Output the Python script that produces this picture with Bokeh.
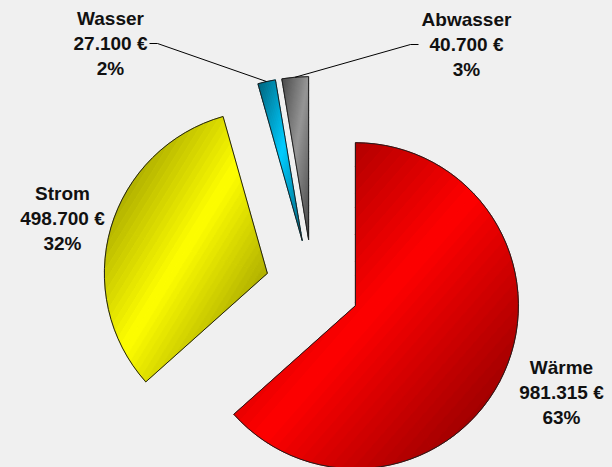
import numpy as np
from bokeh.plotting import figure
from bokeh.models import Range1d
from bokeh.embed import file_html
from bokeh.resources import INLINE
from bokeh.core.properties import value

# ---------------- data ----------------
categories = ["Wärme", "Strom", "Wasser", "Abwasser"]
amounts = [981315, 498700, 27100, 40700]          # euro
colors = ["#ff0000", "#ffff00", "#00ccff", "#969696"]

# ---------------- layout (1 data unit = 1 screen pixel, y up) ----------------
CX, CY = 312.0, 181.0        # pie centre
RADIUS = 163.0
EXPLODE = 47.0
label_pos = [(561, 75), (62, 249), (110, 424), (466, 423)]   # middle line of each label
LINE_GAP = 25
leaders = [None, None, (149, 157), (418, 410)]                # (start x, elbow x) on middle line
DARK = 0.47
NBANDS = 48
FONT = "Liberation Sans"
FONT_SIZE = "19px"

total = float(sum(amounts))
fracs = [a / total for a in amounts]

p = figure(width=612, height=467, x_range=Range1d(0, 612), y_range=Range1d(0, 467),
           output_backend="svg", toolbar_location=None, min_border=0,
           x_axis_location=None, y_axis_location=None)
p.grid.visible = False
p.outline_line_color = None
p.background_fill_color = "#f0f0f0"
p.border_fill_color = "#f0f0f0"


def clip(poly, a, b, c):
    out = []
    n = len(poly)
    for i in range(n):
        P = poly[i]
        Q = poly[(i + 1) % n]
        fp = a * P[0] + b * P[1] + c
        fq = a * Q[0] + b * Q[1] + c
        if fp >= 0:
            out.append(P)
        if (fp >= 0) != (fq >= 0):
            s = fp / (fp - fq)
            out.append((P[0] + s * (Q[0] - P[0]), P[1] + s * (Q[1] - P[1])))
    return out


def shade(hexcol, f):
    r = int(hexcol[1:3], 16); g = int(hexcol[3:5], 16); b = int(hexcol[5:7], 16)
    return "#%02x%02x%02x" % (int(round(r * f)), int(round(g * f)), int(round(b * f)))


wx, wy, ws, we, wc = [], [], [], [], []
band_xs, band_ys, band_cols = [], [], []
outer_mid = []
cum = 0.0
for i, fr in enumerate(fracs):
    a0 = np.pi / 2 - 2 * np.pi * cum
    a1 = np.pi / 2 - 2 * np.pi * (cum + fr)
    cum += fr
    mid = (a0 + a1) / 2
    vx = CX + EXPLODE * np.cos(mid)
    vy = CY + EXPLODE * np.sin(mid)
    wx.append(vx); wy.append(vy); ws.append(a0); we.append(a1); wc.append(colors[i])
    outer_mid.append((vx + RADIUS * np.cos(mid), vy + RADIUS * np.sin(mid)))

    # bounding box of the whole slice (gradient reference)
    angs = np.linspace(a0, a1, 400)
    xs = np.concatenate([[vx], vx + RADIUS * np.cos(angs)])
    ys = np.concatenate([[vy], vy + RADIUS * np.sin(angs)])
    xmin, xmax, ymin, ymax = xs.min(), xs.max(), ys.min(), ys.max()
    Wd, Hd = xmax - xmin, ymax - ymin
    a = 1.0 / (2 * Wd); b = -1.0 / (2 * Hd); c = (-xmin / Wd + ymax / Hd) / 2

    # split the slice into convex sub-wedges of at most 90 degrees
    span = abs(a0 - a1)
    nsub = int(np.ceil(span / (np.pi / 2)))
    edges = np.linspace(a0, a1, nsub + 1)
    for s in range(nsub):
        n = max(8, int(abs(edges[s] - edges[s + 1]) * 180 / np.pi))
        sa = np.linspace(edges[s], edges[s + 1], n)
        poly = [(vx, vy)] + [(vx + RADIUS * np.cos(t), vy + RADIUS * np.sin(t)) for t in sa]
        for k in range(NBANDS):
            t0 = k / NBANDS; t1 = (k + 1) / NBANDS
            pp = clip(poly, a, b, c - t0)
            if len(pp) < 3:
                continue
            pp = clip(pp, -a, -b, t1 - c)
            if len(pp) < 3:
                continue
            tm = (t0 + t1) / 2
            f = DARK + (1 - DARK) * (1 - abs(2 * tm - 1))
            col = shade(colors[i], f)
            band_xs.append([q[0] for q in pp]); band_ys.append([q[1] for q in pp]); band_cols.append(col)

# base fill
p.wedge(x=wx, y=wy, radius=RADIUS, start_angle=ws, end_angle=we, direction="clock",
        fill_color=wc, line_color=None)
# gradient shading
p.patches(xs=band_xs, ys=band_ys, fill_color=band_cols, line_color=band_cols, line_width=0.8)
# outlines
p.wedge(x=wx, y=wy, radius=RADIUS, start_angle=ws, end_angle=we, direction="clock",
        fill_alpha=0, line_color="#1e1e1e", line_width=1)

# leader lines
for i, ld in enumerate(leaders):
    if ld is None:
        continue
    ly = label_pos[i][1]
    p.line(x=[ld[0], ld[1], outer_mid[i][0]], y=[ly, ly, outer_mid[i][1]],
           line_color="#000000", line_width=1)

# labels
names, vals, pcts, lx, ly = [], [], [], [], []
for i, cat in enumerate(categories):
    names.append(cat)
    vals.append("{:,}".format(amounts[i]).replace(",", ".") + " €")
    pcts.append("%d%%" % int(round(fracs[i] * 100)))
    lx.append(label_pos[i][0]); ly.append(label_pos[i][1])
ly = np.array(ly, dtype=float)
for txt, dy in ((names, LINE_GAP), (vals, 0), (pcts, -LINE_GAP)):
    p.text(x=lx, y=list(ly + dy), text=txt, text_font=value(FONT), text_font_size=FONT_SIZE,
           text_font_style="bold", text_align="center", text_baseline="middle",
           text_color="#111111")

template = "{% block preamble %}<style>body { background: #f0f0f0; }</style>{% endblock %}"
open("out.html", "w").write(file_html(p, INLINE, template=template))
